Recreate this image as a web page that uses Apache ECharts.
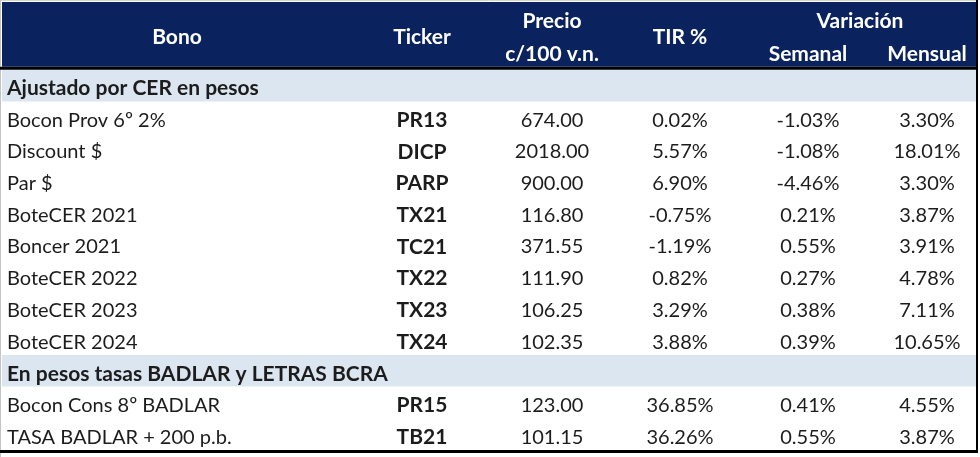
<!DOCTYPE html>
<html>
<head>
<meta charset="utf-8">
<script src="https://cdn.jsdelivr.net/npm/echarts@6/dist/echarts.min.js"></script>
<style>
html, body { margin: 0; padding: 0; background: #fff; }
#table-box { width: 980px; height: 457px; }
</style>
</head>
<body>
<div id="table-box"></div>
<script>
// data
const sections = ['Ajustado por CER en pesos', 'En pesos tasas BADLAR y LETRAS BCRA'];
const bonos = ['Bocon Prov 6º 2%', 'Discount $', 'Par $', 'BoteCER 2021', 'Boncer 2021',
  'BoteCER 2022', 'BoteCER 2023', 'BoteCER 2024', 'Bocon Cons 8º BADLAR', 'TASA BADLAR + 200 p.b.'];
const bonoSection = [0, 0, 0, 0, 0, 0, 0, 0, 1, 1];
const tickers = ['PR13', 'DICP', 'PARP', 'TX21', 'TC21', 'TX22', 'TX23', 'TX24', 'PR15', 'TB21'];
const precios = [674.00, 2018.00, 900.00, 116.80, 371.55, 111.90, 106.25, 102.35, 123.00, 101.15];
const tir = [0.02, 5.57, 6.90, -0.75, -1.19, 0.82, 3.29, 3.88, 36.85, 36.26];
const semanal = [-1.03, -1.08, -4.46, 0.21, 0.55, 0.27, 0.38, 0.39, 0.41, 0.55];
const mensual = [3.30, 18.01, 3.30, 3.87, 3.91, 4.78, 7.11, 10.65, 4.55, 3.87];
const headers = {
  bono: 'Bono', ticker: 'Ticker', precio: ['Precio', 'c/100 v.n.'], tir: 'TIR %',
  variacion: 'Variación', semanal: 'Semanal', mensual: 'Mensual'
};

// layout (x in axis units, same scale as the page width)
const X_MAX = 980;
const COL = { bono: 7, bonoHead: 177, ticker: 422, precio: 552, tir: 680, variacion: 860, semanal: 808, mensual: 927 };
const FRAME_L = 1, FRAME_R = 977;
const FONT = 'Lato';
const FS = 20;
const FS_BOLD = 21;
const HEADER_BG = '#0a235f';
const SECTION_BG = '#dce6f1';
const INK = '#1c1c1c';

// one row per section title and per bond
const rows = [];
let lastSec = -1;
bonos.forEach(function (b, i) {
  if (bonoSection[i] !== lastSec) {
    lastSec = bonoSection[i];
    rows.push({ kind: 'section', text: sections[lastSec] });
  }
  rows.push({ kind: 'bond', i: i });
});

const pct = v => v.toFixed(2) + '%';

function txt(s, x, y, align, bold, color) {
  return {
    type: 'text',
    style: {
      text: s, x: x, y: y, align: align, verticalAlign: 'middle',
      font: bold ? 'bold ' + FS_BOLD + 'px ' + FONT : FS + 'px ' + FONT,
      fill: color || INK
    }
  };
}

function renderHeader(params, api) {
  const top = api.coord([0, -2.14])[1];
  const bot = api.coord([0, -0.09])[1];
  const end = api.coord([0, rows.length])[1];
  const h = bot - top;
  const l1 = top + h * 0.29, l2 = top + h * 0.8, mid = top + h * 0.55;
  const x = k => api.coord([COL[k], 0])[0];
  const W = '#ffffff';
  return {
    type: 'group',
    children: [
      { type: 'line', shape: { x1: 0, y1: 0.5, x2: FRAME_R, y2: 0.5 }, style: { stroke: '#d4d4d4', lineWidth: 1 } },
      { type: 'line', shape: { x1: 0.5, y1: 0, x2: 0.5, y2: end + 7 }, style: { stroke: '#c4c4c4', lineWidth: 1 } },
      { type: 'rect', shape: { x: FRAME_L + 1, y: top, width: FRAME_R - FRAME_L - 1, height: h }, style: { fill: HEADER_BG } },
      { type: 'line', shape: { x1: 0, y1: bot + 1.5, x2: FRAME_R + 1, y2: bot + 1.5 }, style: { stroke: '#000', lineWidth: 3 } },
      { type: 'line', shape: { x1: 0, y1: end + 1.5, x2: FRAME_R + 1, y2: end + 1.5 }, style: { stroke: '#000', lineWidth: 3 } },
      { type: 'line', shape: { x1: FRAME_R, y1: 0, x2: FRAME_R, y2: end + 3 }, style: { stroke: '#000', lineWidth: 2 } },
      txt(headers.bono, x('bonoHead'), mid, 'center', true, W),
      txt(headers.ticker, x('ticker'), mid, 'center', true, W),
      txt(headers.precio[0], x('precio'), l1, 'center', true, W),
      txt(headers.precio[1], x('precio'), l2, 'center', true, W),
      txt(headers.tir, x('tir'), mid, 'center', true, W),
      txt(headers.variacion, x('variacion'), l1, 'center', true, W),
      txt(headers.semanal, x('semanal'), l2, 'center', true, W),
      txt(headers.mensual, x('mensual'), l2, 'center', true, W)
    ]
  };
}

function renderRow(params, api) {
  const r = rows[params.dataIndex];
  const k = api.value(1);
  const tl = api.coord([0, k]);
  const br = api.coord([X_MAX, k + 1]);
  const cy = (tl[1] + br[1]) / 2 + 3;
  const x = c => api.coord([COL[c], k])[0];
  const children = [];
  if (r.kind === 'section') {
    children.push({ type: 'rect', shape: { x: FRAME_L + 1, y: tl[1], width: FRAME_R - FRAME_L - 2, height: br[1] - tl[1] }, style: { fill: SECTION_BG } });
    children.push(txt(r.text, x('bono'), cy, 'left', true));
  } else {
    const i = r.i;
    children.push(txt(bonos[i], x('bono'), cy, 'left', false));
    children.push(txt(tickers[i], x('ticker'), cy, 'center', true));
    children.push(txt(precios[i].toFixed(2), x('precio'), cy, 'center', false));
    children.push(txt(pct(tir[i]), x('tir'), cy, 'center', false));
    children.push(txt(pct(semanal[i]), x('semanal'), cy, 'center', false));
    children.push(txt(pct(mensual[i]), x('mensual'), cy, 'center', false));
  }
  return { type: 'group', children: children };
}

const chart = echarts.init(document.getElementById('table-box'));
chart.setOption({
  animation: false,
  grid: { left: 0, right: 0, top: 0, bottom: 7 },
  xAxis: { type: 'value', min: 0, max: X_MAX, show: false },
  yAxis: { type: 'value', min: -2.2, max: rows.length, inverse: true, show: false },
  series: [
    { type: 'custom', renderItem: renderRow, data: rows.map((r, k) => [0, k]), encode: { x: 0, y: 1 }, silent: true },
    { type: 'custom', renderItem: renderHeader, data: [[0, 0]], encode: { x: 0, y: 1 }, silent: true }
  ]
});
</script>
</body>
</html>
